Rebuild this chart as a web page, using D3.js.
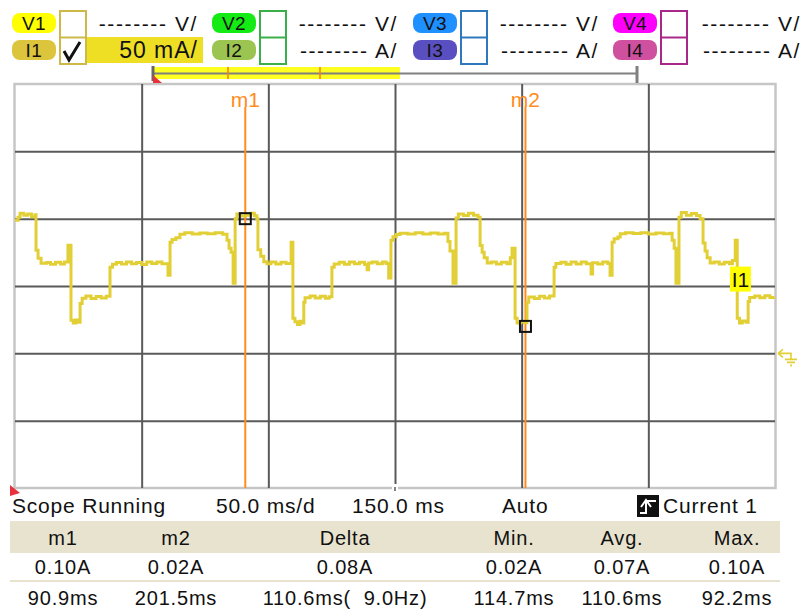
<!DOCTYPE html>
<html>
<head>
<meta charset="utf-8">
<script src="https://cdn.jsdelivr.net/npm/d3@7"></script>
<style>
  html, body { margin: 0; padding: 0; background: #fff; }
  svg { display: block; }
  text { font-family: "Liberation Sans", Arial, sans-serif; fill: #111; }
</style>
</head>
<body>
<svg id="scope" width="804" height="610"></svg>
<script>
// ---- Captured current trace (time in ms, current in mA), held between samples ----
const trace = [
  [0, 98.8], [1.2, 101], [2.0, 104], [3.5, 102.5], [5, 103.5], [6.5, 101.5], [7.9, 103],
  [8.3, 76.5], [9.1, 70.6], [10.3, 66.9], [12.5, 67.5], [14, 66.2], [16, 67.6], [18, 66.4], [19.5, 67.8],
  [20.9, 80.2], [22.1, 24.5], [23.0, 22.5], [24.0, 24.8], [25.0, 23.0], [25.7, 37], [26.5, 40.9],
  [28, 42.5], [30, 40.8], [32, 42.2], [34, 41.0], [36, 42.4],
  [37.5, 63.9], [38.5, 66.2], [40, 67.5], [42, 66.3], [44, 67.8], [46, 66.6], [48, 67.4], [50, 66.0],
  [52, 67.8], [54, 66.8], [56, 67.9], [58, 66.5], [60.4, 58],
  [61.2, 82.5], [62, 84.5], [63.5, 85.8], [65.1, 88.5], [67, 89.5], [70, 88.7], [73, 89.4], [76, 88.8],
  [79, 89.6], [82, 88.5], [83.7, 84], [84.5, 78], [85.3, 75], [86.1, 52],
  [86.9, 100], [87.6, 103.5], [89, 102], [91, 102.5], [93, 104], [94.5, 102.2], [95.5, 100],
  [95.9, 77], [97, 72], [98.2, 68], [99.5, 66.5], [101, 67.8], [103, 66.4], [105, 67.6], [107, 66.8],
  [109.0, 82.5], [109.7, 26], [110.5, 23.5], [111.5, 21.5], [112.5, 23.8], [113.3, 22.6], [114.0, 38],
  [114.5, 41.2], [116.5, 42.6], [118.5, 41.0], [120.5, 42.4], [122.5, 40.9], [124, 42],
  [125.1, 63.9], [126, 66.4], [128, 67.6], [130, 66.2], [132, 67.9], [134, 66.5], [136, 67.7], [138, 66.0],
  [139, 62], [139.6, 67], [141, 67.8], [143, 66.6], [145, 67.9], [146.5, 66.8], [147.5, 56],
  [148.4, 84], [149.2, 86.5], [150.5, 88.2], [152, 89.2], [155, 88.6], [158, 89.5], [161, 88.7],
  [164, 89.4], [167, 88.6], [169.5, 89.2], [170.9, 83], [171.7, 76], [172.9, 52],
  [174.1, 100.5], [175, 103.5], [177, 102.3], [179, 104], [181, 102.6], [182.8, 101],
  [183.6, 80], [184.4, 75], [185.2, 71], [186.4, 67], [188, 67.8], [190, 66.3], [192, 67.6], [194.2, 66.5],
  [195.5, 71], [196.2, 78], [197.4, 26], [198.2, 22.5], [199.5, 23.5], [201, 22.8], [202.1, 38],
  [202.8, 41.8], [205, 40.8], [207, 42.3], [209, 41.0], [211, 42.5],
  [212.8, 64], [213.5, 66.8], [215.5, 67.7], [217.5, 66.2], [219.5, 67.9], [221.5, 66.4], [223.5, 67.8],
  [225.5, 66.6], [227.4, 59], [228, 67.2], [230, 66.4], [232, 67.8], [234, 66.7], [234.9, 58],
  [235.7, 82.5], [236.5, 85], [238, 86.4], [238.9, 88.8], [241, 89.6], [244, 88.9], [247, 89.5],
  [250, 88.6], [253, 89.3], [256, 88.8], [258.5, 89.2], [259.4, 84], [260.2, 78], [260.9, 52],
  [262.1, 101], [263, 104.5], [265, 102.6], [267, 103.8], [269, 102.4], [270.4, 100],
  [271.6, 82], [272.4, 76], [273.2, 71], [274.4, 67], [276, 67.8], [278, 66.4], [280, 67.6], [282, 66.5],
  [283.2, 69], [284.3, 84], [285.1, 26], [286, 22.5], [287.1, 24], [288.6, 23], [289.4, 38.5],
  [290, 41.5], [292, 42.6], [294, 41.2], [296, 42.8], [298, 41.4], [299.6, 42]
];

// ---- Cursor markers ----
const markerNames = ["m1", "m2"];
const markerTimes = [90.9, 201.5];   // ms
const markerValues = [100, 20];      // mA

// ---- Screen settings ----
const timeWindow = [0, 300];          // ms across the screen (50 ms/div)
const currentRange = [-100, 200];     // mA across the screen (50 mA/div)
const gridStepTime = 50;
const gridStepCurrent = 50;

// ---- Channel header ----
const channelIds = ["1", "2", "3", "4"];
const voltBadgeColors = ["#ffff00", "#14ea14", "#1e90ff", "#ff00ff"];
const currBadgeColors = ["#dcc43c", "#9cc450", "#5a4fc0", "#d050a0"];
const boxColors = ["#cdb84a", "#3aae48", "#2f78bd", "#a8288a"];
const voltScaleText = ["-------- V/", "-------- V/", "-------- V/", "-------- V/"];
const currScaleText = ["50 mA/", "-------- A/", "-------- A/", "-------- A/"];

// ---- Status line ----
const statusTexts = ["Scope Running", "50.0 ms/d", "150.0 ms", "Auto", "Current 1"];

// ---- Measurement table ----
const tableHeaders = ["m1", "m2", "Delta", "Min.", "Avg.", "Max."];
const tableCurrents = ["0.10A", "0.02A", "0.08A", "0.02A", "0.07A", "0.10A"];
const tableTimes = ["90.9ms", "201.5ms", "110.6ms(  9.0Hz)", "114.7ms", "110.6ms", "92.2ms"];

const svg = d3.select("#scope");

// ---------- Plot area ----------
const plot = { left: 15, right: 775, top: 84, bottom: 488 };
const x = d3.scaleLinear().domain(timeWindow).range([plot.left, plot.right]);
const y = d3.scaleLinear().domain(currentRange).range([plot.bottom, plot.top]);

// outer frame
svg.append("rect")
  .attr("x", plot.left - 0.5).attr("y", plot.top)
  .attr("width", plot.right - plot.left + 1).attr("height", plot.bottom - plot.top)
  .attr("fill", "#fff").attr("stroke", "#c6c6c6").attr("stroke-width", 2.5);

// grid via axes
const xTicks = d3.range(timeWindow[0] + gridStepTime, timeWindow[1], gridStepTime);
const yTicks = d3.range(currentRange[0] + gridStepCurrent, currentRange[1], gridStepCurrent);

const gx = svg.append("g").attr("transform", `translate(0,${plot.bottom})`)
  .call(d3.axisBottom(x).tickValues(xTicks).tickSize(-(plot.bottom - plot.top)).tickFormat(""));
gx.select(".domain").remove();
gx.selectAll(".tick line").attr("stroke", "#5a5a5a").attr("stroke-width", 2);

const gy = svg.append("g").attr("transform", `translate(${plot.left},0)`)
  .call(d3.axisLeft(y).tickValues(yTicks).tickSize(-(plot.right - plot.left)).tickFormat(""));
gy.select(".domain").remove();
gy.selectAll(".tick line").attr("stroke", "#5a5a5a").attr("stroke-width", 2);

// small break of the centre line at the bottom edge
svg.append("rect").attr("x", x(150) - 3).attr("y", plot.bottom - 4).attr("width", 6).attr("height", 10).attr("fill", "#fff");
svg.append("line").attr("x1", x(150)).attr("x2", x(150)).attr("y1", plot.bottom - 1).attr("y2", plot.bottom + 3)
  .attr("stroke", "#5a5a5a").attr("stroke-width", 1.5);

// cursor lines
markerTimes.forEach((t, i) => {
  svg.append("line")
    .attr("x1", x(t)).attr("x2", x(t))
    .attr("y1", 107).attr("y2", plot.bottom)
    .attr("stroke", "#ff8c1c").attr("stroke-width", 2);
  svg.append("text")
    .attr("x", x(t)).attr("y", 107)
    .attr("text-anchor", "middle")
    .style("font-size", "21px")
    .style("fill", "#ff8c1c")
    .text(markerNames[i]);
});

// the trace
const line = d3.line()
  .x(d => x(d[0]))
  .y(d => y(d[1]))
  .curve(d3.curveStepAfter);

svg.append("path")
  .datum(trace)
  .attr("fill", "none")
  .attr("stroke", "#e2cf35")
  .attr("stroke-width", 3)
  .attr("stroke-linejoin", "miter")
  .attr("d", line);

// cursor boxes on the trace
markerTimes.forEach((t, i) => {
  svg.append("rect")
    .attr("x", x(t) - 5.5).attr("y", y(markerValues[i]) - 5.5)
    .attr("width", 11).attr("height", 11)
    .attr("fill", "none").attr("stroke", "#111").attr("stroke-width", 2);
});

// channel tag on the trace
const tagX = x(282.6), tagY = y(55.5);
svg.append("rect").attr("x", tagX - 1).attr("y", tagY - 12).attr("width", 21).attr("height", 25).attr("fill", "#ffff00");
svg.append("text").attr("x", tagX + 9.5).attr("y", tagY + 8).attr("text-anchor", "middle")
  .style("font-size", "21px").text("I1");

// ground reference marker on the right edge
const gY = y(0);
const gnd = svg.append("g").attr("stroke", "#e2cf35").attr("fill", "none").attr("stroke-width", 1.6);
gnd.append("path").attr("d", `M${plot.right + 3},${gY} h13 v6 M${plot.right + 3},${gY} l5,-4 M${plot.right + 3},${gY} l5,4`);
gnd.append("path").attr("d", `M${plot.right + 10},${gY + 6} h12 M${plot.right + 12},${gY + 9} h8 M${plot.right + 15},${gY + 12} h2`);

// red start markers
svg.append("path").attr("d", `M${plot.left - 5},${plot.bottom - 3} L${plot.left + 5},${plot.bottom + 5} L${plot.left - 5},${plot.bottom + 8} Z`)
  .attr("fill", "#e8313a");

// ---------- Record position bar ----------
svg.append("rect").attr("x", 153).attr("y", 67).attr("width", 247).attr("height", 12).attr("fill", "#ffff22");
svg.append("line").attr("x1", 153).attr("x2", 637).attr("y1", 73.5).attr("y2", 73.5).attr("stroke", "#808080").attr("stroke-width", 2);
svg.append("line").attr("x1", 637).attr("x2", 637).attr("y1", 66).attr("y2", 83).attr("stroke", "#808080").attr("stroke-width", 3);
svg.append("line").attr("x1", 153).attr("x2", 153).attr("y1", 66).attr("y2", 81).attr("stroke", "#666").attr("stroke-width", 3);
[228, 320].forEach(px => {
  svg.append("line").attr("x1", px).attr("x2", px).attr("y1", 67).attr("y2", 79).attr("stroke", "#ff7a1a").attr("stroke-width", 1.5);
});
svg.append("path").attr("d", "M153,75 L162,83 L153,83 Z").attr("fill", "#e8313a");

// ---------- Channel header ----------
const chanX = [12, 212, 413, 613];
const rowV = 23, rowI = 50;
channelIds.forEach((id, i) => {
  const bx = chanX[i];
  // tick-box column
  if (i === 0) {
    svg.append("rect").attr("x", bx + 73).attr("y", 37).attr("width", 118).attr("height", 26).attr("fill", "#eedf24");
  }
  svg.append("rect").attr("x", bx + 48).attr("y", 11).attr("width", 26).attr("height", 53)
    .attr("fill", "#fff").attr("stroke", boxColors[i]).attr("stroke-width", 2);
  svg.append("line").attr("x1", bx + 48).attr("x2", bx + 74).attr("y1", 37.5).attr("y2", 37.5)
    .attr("stroke", boxColors[i]).attr("stroke-width", 2);

  // badges
  [[rowV, voltBadgeColors[i], "V" + id], [rowI, currBadgeColors[i], "I" + id]].forEach(([cy, col, label]) => {
    svg.append("rect").attr("x", bx).attr("y", cy - 10).attr("width", 44).attr("height", 20)
      .attr("rx", 8).attr("ry", 8).attr("fill", col);
    svg.append("text").attr("x", bx + 22).attr("y", cy + 7).attr("text-anchor", "middle")
      .style("font-size", "19px").style("letter-spacing", "0.5px").text(label);
  });

  // scale readouts
  const rx = (i === 3) ? bx + 188 : bx + 186;
  svg.append("text").attr("x", rx).attr("y", rowV + 8).attr("text-anchor", "end")
    .style("font-size", "21px").style("letter-spacing", "1.6px").text(voltScaleText[i]);
  svg.append("text").attr("x", rx).attr("y", rowI + 8).attr("text-anchor", "end")
    .style("font-size", i === 0 ? "23px" : "21px")
    .style("letter-spacing", i === 0 ? "1px" : "1.6px").text(currScaleText[i]);
});

// check mark in the I1 box
svg.append("path").attr("d", "M64,51 L69,60 L80,42").attr("fill", "none").attr("stroke", "#111").attr("stroke-width", 3);

// ---------- Status line ----------
const statusX = [12, 216, 352, 502, 663];
statusTexts.forEach((s, i) => {
  svg.append("text").attr("x", statusX[i]).attr("y", 513)
    .style("font-size", "21px").style("letter-spacing", "0.8px").text(s);
});
// trigger-edge icon
svg.append("rect").attr("x", 637).attr("y", 495).attr("width", 22).attr("height", 22).attr("fill", "#111");
svg.append("path").attr("d", "M640,513 H646 V501 H656 M641,507 L646,500 L651,507")
  .attr("fill", "none").attr("stroke", "#fff").attr("stroke-width", 2);

// ---------- Measurement table ----------
const colX = [63, 176, 345, 514, 622, 737];
svg.append("rect").attr("x", 10).attr("y", 521).attr("width", 770).attr("height", 32).attr("fill", "#e8e3cf");
svg.append("line").attr("x1", 10).attr("x2", 780).attr("y1", 581).attr("y2", 581).attr("stroke", "#e8e3cf").attr("stroke-width", 2);
[[tableHeaders, 545], [tableCurrents, 574], [tableTimes, 605]].forEach(([row, yy]) => {
  row.forEach((s, i) => {
    svg.append("text").attr("x", colX[i]).attr("y", yy).attr("text-anchor", "middle")
      .style("font-size", "20px").style("letter-spacing", "0.8px")
      .attr("xml:space", "preserve").text(s);
  });
});
</script>
</body>
</html>
